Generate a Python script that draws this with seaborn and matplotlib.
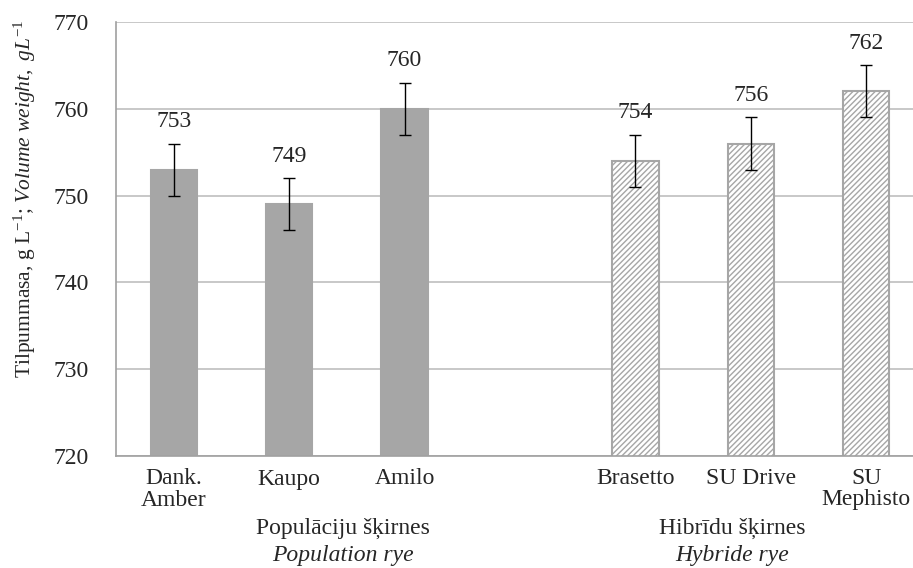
import numpy as np
import pandas as pd
import matplotlib
matplotlib.use("Agg")
import matplotlib.pyplot as plt
import seaborn as sns

# === DATA ===
varieties = ["Dank.\nAmber", "Kaupo", "Amilo", "Brasetto", "SU Drive", "SU\nMephisto"]
groups = ["pop", "pop", "pop", "hyb", "hyb", "hyb"]
volume_weight = [753, 749, 760, 754, 756, 762]
error = [3, 3, 3, 3, 3, 3]
group_titles = ["Populāciju šķirnes", "Hibrīdu šķirnes"]
group_titles_en = ["Population rye", "Hybride rye"]

# empty slot between the two groups
order = varieties[:3] + [" "] + varieties[3:]

df = pd.DataFrame({"variety": varieties, "group": groups, "value": volume_weight, "err": error})

# === STYLE ===
sns.set_style("white")
plt.rcParams["font.family"] = ["Liberation Serif", "DejaVu Serif"]
plt.rcParams["mathtext.fontset"] = "custom"
plt.rcParams["mathtext.rm"] = "Liberation Serif"
plt.rcParams["mathtext.it"] = "Liberation Serif:italic"
plt.rcParams["hatch.color"] = "#a6a6a6"
plt.rcParams["hatch.linewidth"] = 1.0

FS = 17

fig = plt.figure(figsize=(9.13, 5.68), dpi=100)
ax = fig.add_axes([116 / 913, (568 - 456) / 568, 808 / 913, 434 / 568])

sns.barplot(data=df, x="variety", y="value", order=order, color="#a6a6a6",
            width=0.4, errorbar=None, saturation=1, ax=ax)

# hatched hybrid bars
for p, g in zip(ax.patches, groups):
    p.set_edgecolor("#a6a6a6")
    p.set_linewidth(1.5)
    if g == "hyb":
        p.set_facecolor("white")
        p.set_hatch("//////")

xpos = [order.index(v) for v in varieties]
ax.errorbar(xpos, volume_weight, yerr=error, fmt="none", ecolor="black",
            elinewidth=1, capsize=4.5, capthick=1)
for x, v, e in zip(xpos, volume_weight, error):
    ax.annotate(f"{v}", (x, v + e), xytext=(0, 16), textcoords="offset points",
                ha="center", va="center", fontsize=FS)

# === AXES ===
ax.set_ylim(720, 770)
ax.set_yticks(np.arange(720, 771, 10))
ax.set_xlim(-0.5, len(order) - 0.5)
ax.yaxis.grid(True, color="#bfbfbf", linewidth=1.2)
ax.set_axisbelow(True)
for s in ["top", "right"]:
    ax.spines[s].set_visible(False)
for s in ["left", "bottom"]:
    ax.spines[s].set_color("#a0a0a0")
    ax.spines[s].set_linewidth(1.2)

ax.set_xticks(range(len(order)))
ax.set_xticklabels(order, fontsize=FS, linespacing=1.0, va="top")
ax.tick_params(axis="x", which="major", length=0, pad=9)
ax.set_xticks(np.arange(-0.5, len(order)), minor=True)
ax.tick_params(axis="x", which="minor", length=5.5, color="#a0a0a0", direction="out")
ax.tick_params(axis="y", length=5.5, color="#a0a0a0", direction="out", labelsize=FS, pad=14)
ax.set_xlabel("")
ax.set_ylabel(r"Tilpummasa, g L$^{-1}$; $\it{Volume\ weight,\ gL^{-1}}$", fontsize=15.5)
ax.yaxis.set_label_coords(-(116 - 38) / 808, 0.594)

# group labels under the categories
group_centers = [1.47, 4.84]
for c, t, te in zip(group_centers, group_titles, group_titles_en):
    ax.text(c, -0.166, t, transform=ax.get_xaxis_transform(), ha="center", va="center", fontsize=FS)
    ax.text(c, -0.23, te, transform=ax.get_xaxis_transform(), ha="center", va="center",
            fontsize=FS, style="italic")

fig.savefig("out.png", dpi=100)
